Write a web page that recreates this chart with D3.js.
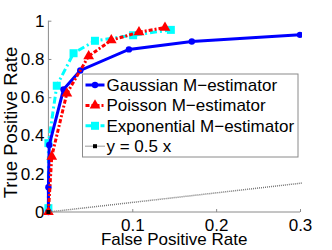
<!DOCTYPE html>
<html>
<head>
<meta charset="utf-8">
<script src="https://cdn.jsdelivr.net/npm/d3@7"></script>
<style>
  body { margin: 0; background: #fff; }
  text { font-family: 'Liberation Sans', Arial, sans-serif; }
</style>
</head>
<body>
<svg></svg>
<script>
const width = 332
const height = 250
const margin = { top: 20.7, bottom: 38, left: 48.4, right: 32 }

// ROC points
const gaussFpr = [0, 0, 0.001, 0.018, 0.038, 0.096, 0.171, 0.3]
const gaussTpr = [0, 0.13, 0.35, 0.64, 0.74, 0.85, 0.891, 0.926]
const poissonFpr = [0, 0.004, 0.022, 0.048, 0.075, 0.108, 0.139]
const poissonTpr = [0, 0.29, 0.62, 0.815, 0.898, 0.94, 0.964]
const expoFpr = [0, 0, 0.01, 0.03, 0.0555, 0.101, 0.146]
const expoTpr = [0.02, 0.36, 0.66, 0.83, 0.895, 0.924, 0.952]
const refFpr = [0, 1]
const refTpr = refFpr.map(x => 0.5 * x)

const xTicks = [0.1, 0.2, 0.3]
const yTicks = [0, 0.2, 0.4, 0.6, 0.8, 1]
const seriesNames = ['Gaussian M\u2212estimator', 'Poisson M\u2212estimator', 'Exponential M\u2212estimator', 'y = 0.5 x']

const zip = (xs, ys) => xs.map((x, i) => ({ x, y: ys[i] }))

const series = [
  { name: seriesNames[2], pts: zip(expoFpr, expoTpr), color: '#00ffff', dash: '7,3,2,3', marker: 'square' },
  { name: seriesNames[0], pts: zip(gaussFpr, gaussTpr), color: '#0000ff', dash: null, marker: 'circle' },
  { name: seriesNames[1], pts: zip(poissonFpr, poissonTpr), color: '#ff0000', dash: '4,2,2,2', marker: 'triangle' },
  { name: seriesNames[3], pts: zip(refFpr, refTpr), color: '#777', dash: '1,1', marker: 'dot' }
]

const svg = d3.select('svg').attr('width', width).attr('height', height)

const xScale = d3.scaleLinear().domain([0, 0.3]).range([margin.left, width - margin.right])
const yScale = d3.scaleLinear().domain([0, 1]).range([height - margin.bottom, margin.top])

/** clip lines to the axes box (a little slack on the left/bottom for line width) */
svg.append('clipPath').attr('id', 'plot')
  .append('rect')
  .attr('x', margin.left - 6)
  .attr('y', 0)
  .attr('width', xScale(0.3) - margin.left + 8)
  .attr('height', yScale(0) + 6)

/** axes, MATLAB style with inward ticks */
const xAxis = d3.axisBottom(xScale).tickValues(xTicks).tickSize(-3).tickPadding(7)
  .tickFormat(d3.format('.1f'))
const yAxis = d3.axisLeft(yScale).tickValues(yTicks).tickSize(-3).tickPadding(4)
  .tickFormat(d => d === 0 || d === 1 ? String(d) : d3.format('.1f')(d))

const gx = svg.append('g')
  .attr('transform', `translate(0, ${yScale(0)})`)
  .call(xAxis)
const gy = svg.append('g')
  .attr('transform', `translate(${margin.left}, 0)`)
  .call(yAxis)

for (const g of [gx, gy]) {
  g.select('.domain').attr('stroke', '#8a8a8a').attr('stroke-width', 1)
  g.selectAll('.tick line').attr('stroke', '#8a8a8a')
  g.selectAll('.tick text').attr('fill', '#000').attr('font-size', 17)
    .attr('font-family', "'Liberation Sans', Arial, sans-serif")
}
gx.select('.domain').attr('d', `M${xScale(0)},0H${xScale(0.3)}`)
gy.select('.domain').attr('d', `M0,${yScale(0)}V${yScale(1)}`)
gx.selectAll('.tick text').attr('dy', '0.71em')

const line = d3.line().x(d => xScale(d.x)).y(d => yScale(d.y))

const drawMarker = (g, type, color, x, y) => {
  if (type === 'circle') {
    g.append('circle').attr('cx', x).attr('cy', y).attr('r', 3.2).attr('fill', color)
  } else if (type === 'square') {
    g.append('rect').attr('x', x - 4).attr('y', y - 4).attr('width', 8).attr('height', 8).attr('fill', color)
  } else if (type === 'triangle') {
    g.append('path').attr('d', d3.symbol(d3.symbolTriangle, 50)()).attr('transform', `translate(${x},${y})`).attr('fill', color)
  } else {
    g.append('rect').attr('x', x - 2).attr('y', y - 2).attr('width', 4).attr('height', 4).attr('fill', '#000')
  }
}

const plot = svg.append('g').attr('clip-path', 'url(#plot)')
series.forEach(s => {
  const g = plot.append('g')
  g.append('path')
    .datum(s.pts)
    .attr('d', line)
    .attr('fill', 'none')
    .attr('stroke', s.color)
    .attr('stroke-width', s.marker === 'dot' ? 1.5 : 3)
    .attr('stroke-dasharray', s.dash)
  s.pts.forEach(p => drawMarker(g, s.marker, s.color, xScale(p.x), yScale(p.y)))
})

/** legend */
const legendOrder = [1, 2, 0, 3]
const legend = svg.append('g').attr('transform', 'translate(82.5, 74)')
legend.append('rect')
  .attr('width', 215.5).attr('height', 83)
  .attr('fill', '#fff').attr('stroke', '#8a8a8a').attr('stroke-width', 1)
legendOrder.forEach((k, i) => {
  const s = series[k]
  const cy = 11 + i * 20.4
  const row = legend.append('g')
  row.append('line')
    .attr('x1', 3).attr('x2', 22).attr('y1', cy).attr('y2', cy)
    .attr('stroke', s.color)
    .attr('stroke-width', s.marker === 'dot' ? 1.5 : 3)
    .attr('stroke-dasharray', s.dash)
  drawMarker(row, s.marker, s.color, 12.5, cy)
  row.append('text')
    .attr('x', 24).attr('y', cy).attr('dy', '0.35em')
    .attr('font-size', 17)
    .text(s.name)
})

/** axis titles */
svg.append('text')
  .attr('x', xScale(0.15)).attr('y', 245)
  .attr('text-anchor', 'middle').attr('font-size', 17)
  .text('False Positive Rate')
svg.append('text')
  .attr('transform', `translate(17, 122.5) rotate(-90)`)
  .attr('text-anchor', 'middle').attr('font-size', 18.5)
  .text('True Positive Rate')
</script>
</body>
</html>
